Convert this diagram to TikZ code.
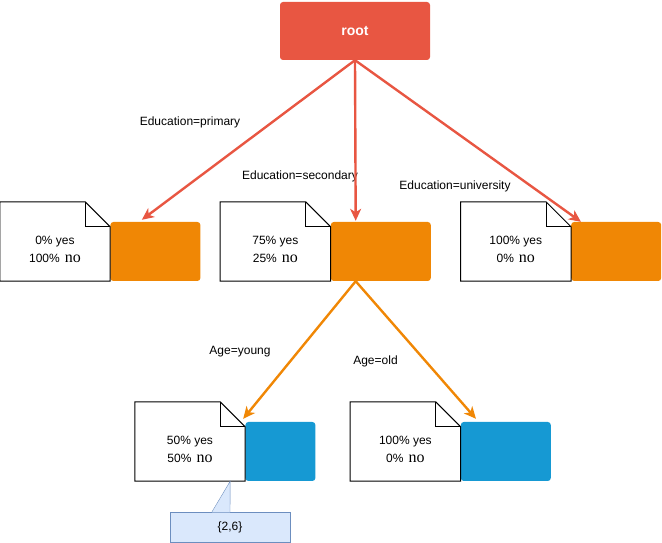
\documentclass[tikz,border=0pt]{standalone}
\usepackage{fontspec}
\setmainfont{Liberation Sans}
\newfontfamily\noserif{Liberation Serif}
\usetikzlibrary{positioning, calc, arrows.meta}
\definecolor{rootred}{HTML}{E85642}
\definecolor{splitorange}{HTML}{F08705}
\definecolor{leafblue}{HTML}{1699D3}
\definecolor{tipfill}{HTML}{DAE8FC}
\definecolor{tipline}{HTML}{6C8EBF}
\newcommand{\shares}[2]{#1\% yes\\#2\%\hspace{5pt}{\fontsize{16}{18}\noserif no}}
\begin{document}
\begin{tikzpicture}[x = 1pt, y = 1pt]
    \tikzstyle{arrowred} = [line width = 2.4pt, rootred, -{Stealth[length = 12pt, width = 11pt, inset = 3.5pt]}]
    \tikzstyle{arroworange} = [line width = 2.4pt, splitorange, -{Stealth[length = 12pt, width = 11pt, inset = 3.5pt]}]
    \tikzstyle{notebox} = [minimum width = 110pt, minimum height = 79pt, inner sep = 0pt]
    \tikzstyle{share} = [align = center, font = \fontsize{12}{18}\selectfont, yshift = -7.5pt]
    \tikzstyle{orangebox} = [fill = splitorange, rounded corners = 3pt, minimum height = 59pt, inner sep = 0pt, anchor = south west]
    \tikzstyle{bluebox} = [fill = leafblue, rounded corners = 3pt, minimum height = 59pt, inner sep = 0pt, anchor = south west]
    \tikzstyle{cond} = [font = \fontsize{12}{14}\selectfont]
    \useasboundingbox (0,0) rectangle (662,543);
    \node[fill = rootred, rounded corners = 3pt, minimum width = 150pt, minimum height = 58pt, text = white, font = \fontsize{14}{16}\selectfont\bfseries](root) at (355,512){root};
    % first split
    \node[notebox, label = {[share]center:\shares{0}{100}}](N1) at (55,301.5){};
    \node[orangebox, minimum width = 90pt](O1) at (N1.south east){};
    \node[notebox, right = 110pt of N1, label = {[share]center:\shares{75}{25}}](N2){};
    \node[orangebox, minimum width = 100pt](O2) at (N2.south east){};
    \node[notebox, right = 130pt of N2, label = {[share]center:\shares{100}{0}}](N3){};
    \node[orangebox, minimum width = 90pt](O3) at (N3.south east){};
    % second split
    \node[notebox, label = {[share]center:\shares{50}{50}}](N4) at (190,101.5){};
    \node[bluebox, minimum width = 70pt](B4) at (N4.south east){};
    \node[notebox, right = 105pt of N4, label = {[share]center:\shares{100}{0}}](N5){};
    \node[bluebox, minimum width = 90pt](B5) at (N5.south east){};
    \foreach \n in {N1, N2, N3, N4, N5} {
        \draw[line width = 1pt] (\n.north west) -- ([xshift = -25pt]\n.north east) -- ([yshift = -25pt]\n.north east) -- (\n.south east) -- (\n.south west) -- cycle;
        \draw[line width = 1pt] ([xshift = -25pt]\n.north east) |- ([yshift = -25pt]\n.north east);
    }
    % callout
    \node[fill = tipfill, draw = tipline, minimum width = 120pt, minimum height = 30pt, font = \fontsize{12}{14}\selectfont](C4) at (230,16){\{2,6\}};
    \coordinate (T4) at ($(N4.south east)+(-15,0)$);
    \fill[tipfill] ($(C4.north)+(-18,-0.6)$) -- (T4) -- ($(C4.north)+(0,-0.6)$) -- cycle;
    \draw[tipline] ($(C4.north)+(-18,0)$) -- (T4) -- (C4.north);
    % labels
    \node[cond](L1) at (190,421){Education=primary};
    \node[cond](L2) at (300,367){Education=secondary};
    \node[cond](L3) at (455,357){Education=university};
    \node[cond](L4) at (240,191){Age=young};
    \node[cond](L5) at (375.5,182){Age=old};
    \draw[arrowred] (root.south) -- ($(O1.north west)!0.35!(O1.north east)+(0,2)$);
    \draw[arrowred] (root.south) -- ($(O2.north west)!0.25!(O2.north east)+(0,1)$);
    \draw[arrowred] (root.south) -- ($(O3.north west)!0.11!(O3.north east)$);
    \draw[arroworange] ($(O2.south west)!0.25!(O2.south east)$) -- ($(B4.north west)+(-2,3)$);
    \draw[arroworange] ($(O2.south west)!0.25!(O2.south east)$) -- ($(B5.north west)!0.17!(B5.north east)+(0,3)$);
\end{tikzpicture}
\end{document}
